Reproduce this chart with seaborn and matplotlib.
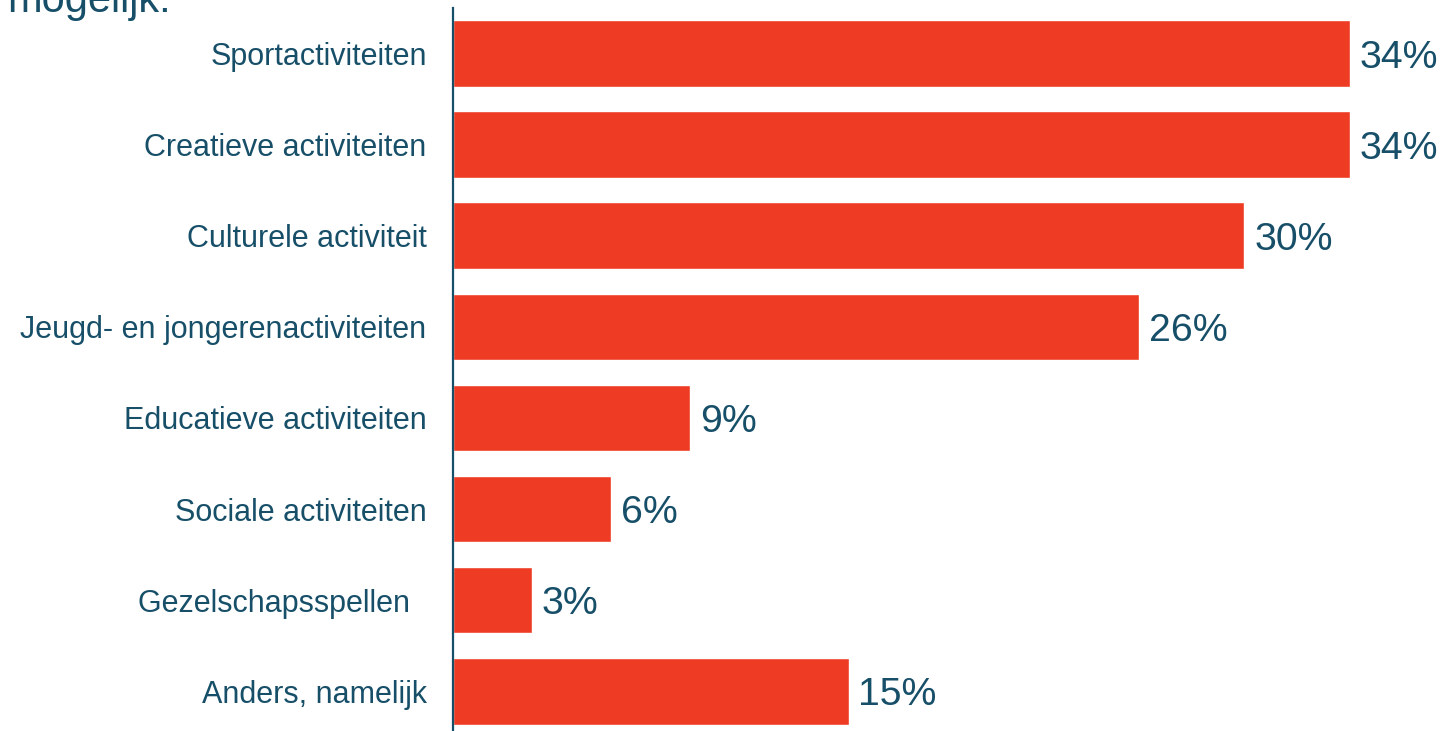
import matplotlib
matplotlib.use("Agg")
import matplotlib.pyplot as plt
import seaborn as sns
import pandas as pd

categories = [
    "Sportactiviteiten",
    "Creatieve activiteiten",
    "Culturele activiteit",
    "Jeugd- en jongerenactiviteiten",
    "Educatieve activiteiten",
    "Sociale activiteiten",
    "Gezelschapsspellen  ",
    "Anders, namelijk",
]
values = [34, 34, 30, 26, 9, 6, 3, 15]
value_labels = ["34%", "34%", "30%", "26%", "9%", "6%", "3%", "15%"]
title_tail = "mogelijk:"

TEXT = "#174f69"
BAR = "#ee3b24"

sns.set_style("white")
plt.rcParams["font.family"] = ["Liberation Sans", "DejaVu Sans"]

W, H = 1443, 731
fig = plt.figure(figsize=(W / 100, H / 100), dpi=100)
left_px, top_px, step = 453, 8.0, 91.1
height_px = step * len(categories)
ax = fig.add_axes([left_px / W, 1 - (top_px + height_px) / H, (W - left_px) / W, height_px / H])

df = pd.DataFrame({"cat": categories, "val": values})
sns.barplot(data=df, x="val", y="cat", orient="h", color=BAR, width=0.73,
            saturation=1, ax=ax)

px_per_unit = (1350 - left_px) / 34
ax.set_xlim(0, (W - left_px) / px_per_unit)
ax.set_ylim(len(categories) - 0.5, -0.5)

texts = ax.bar_label(ax.containers[0], labels=value_labels, padding=7,
                     fontsize=28.3, color=TEXT)
for t in texts:
    t.set_verticalalignment("center_baseline")

ax.set_xlabel("")
ax.set_ylabel("")
ax.set_xticks([])
ax.tick_params(axis="y", length=0, pad=19, labelsize=22.0, labelcolor=TEXT)
for s in ["top", "right", "bottom"]:
    ax.spines[s].set_visible(False)
ax.spines["left"].set_color(TEXT)
ax.spines["left"].set_linewidth(1.6)

fig.text(7 / W, 1 - 12 / H, title_tail, fontsize=30, color=TEXT, ha="left",
         va="baseline")

fig.savefig("out.png", dpi=100, facecolor="white")
